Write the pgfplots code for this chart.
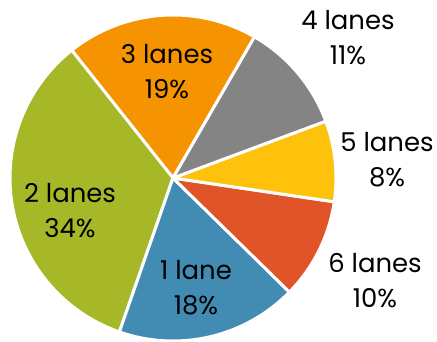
\documentclass[border=0pt]{standalone}
\usepackage{pgfplots}
\pgfplotsset{compat=1.18}
\usepgfplotslibrary{polar}
\usepackage{fontspec}
\setmainfont{Poppins}
\definecolor{cOrange}{HTML}{F59300}
\definecolor{cGreen}{HTML}{A6B727}
\definecolor{cBlue}{HTML}{428BB3}
\definecolor{cRed}{HTML}{E05428}
\definecolor{cYellow}{HTML}{FEC20D}
\definecolor{cGray}{HTML}{848484}
% slice: cumulative share before (percent), share (percent), colour
\newcommand{\slice}[3]{%
  \addplot[fill=#3, draw=white, line width=3pt, line join=round,
    domain={60+3.6*#1}:{60+3.6*(#1+#2)}, samples=120] {1} -- (axis cs:0,0) -- cycle;}
\begin{document}
\begin{tikzpicture}
\useasboundingbox (0,0) rectangle (437bp,342bp);
\begin{polaraxis}[
  at={(173bp,164bp)}, anchor=center,
  width=326bp, height=326bp, scale only axis,
  xmin=0, xmax=360, ymin=0, ymax=1,
  hide axis, clip=false]
\slice{0}{19}{cOrange}   % 3 lanes
\slice{19}{34}{cGreen}   % 2 lanes
\slice{53}{18}{cBlue}    % 1 lane
\slice{71}{10}{cRed}     % 6 lanes
\slice{81}{8}{cYellow}   % 5 lanes
\slice{89}{11}{cGray}    % 4 lanes
\end{polaraxis}
\tikzset{lab/.style={align=center, font=\fontsize{26}{35}\selectfont, text=black, inner sep=0pt}}
\node[lab] at (167bp,270bp) {3 lanes\\19\%};
\node[lab] at (70bp,131bp) {2 lanes\\34\%};
\node[lab] at (196bp,54bp) {1 lane\\18\%};
\node[lab] at (375bp,61bp) {6 lanes\\10\%};
\node[lab] at (387bp,182bp) {5 lanes\\8\%};
\node[lab] at (348bp,304bp) {4 lanes\\11\%};
\end{tikzpicture}
\end{document}
